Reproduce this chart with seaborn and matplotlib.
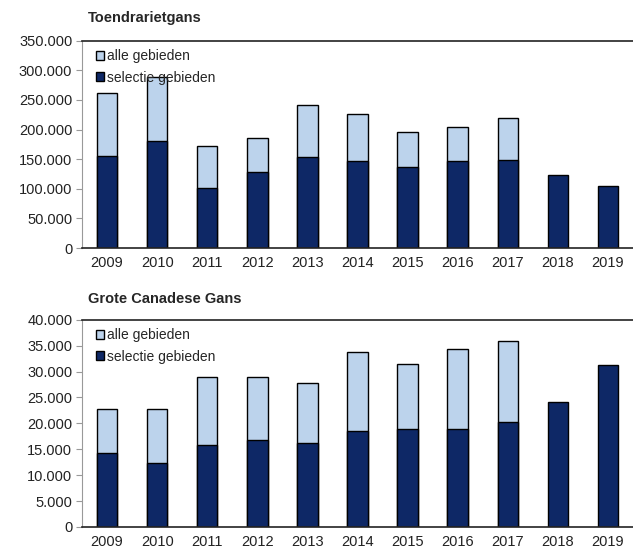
import numpy as np
import pandas as pd
import matplotlib
matplotlib.use("Agg")
import matplotlib.pyplot as plt
import seaborn as sns
from matplotlib.ticker import FuncFormatter, FixedLocator, MultipleLocator

# data
jaren = ["2009", "2010", "2011", "2012", "2013", "2014", "2015", "2016", "2017", "2018", "2019"]

toendra_alle = [262000, 288500, 172500, 186000, 241000, 225500, 196500, 204000, 220000, np.nan, np.nan]
toendra_selectie = [156000, 181500, 101500, 127500, 153500, 147000, 137000, 147000, 149000, 123500, 104000]

canadese_alle = [22800, 22800, 28900, 28950, 27800, 33750, 31450, 34400, 35900, np.nan, np.nan]
canadese_selectie = [14250, 12400, 15800, 16850, 16200, 18450, 18900, 18900, 20200, 24050, 31250]

licht = "#bcd3ec"
donker = "#0e2866"

sns.set_style("white")
plt.rcParams['font.family'] = ['Liberation Sans', 'DejaVu Sans']

fig = plt.figure(figsize=(6.33, 5.48), dpi=100)
ax1 = fig.add_axes([82 / 633, 1 - 248 / 548, 551 / 633, 207.3 / 548])
ax2 = fig.add_axes([82 / 633, 1 - 527 / 548, 551 / 633, 207.3 / 548])


def dutch(x, pos):
    return f"{int(round(x)):,}".replace(",", ".")


def teken(ax, alle, selectie, ymax, stap, titel, titel_y):
    df = pd.DataFrame({"jaar": jaren, "alle": alle, "selectie": selectie})
    sns.barplot(data=df, x="jaar", y="alle", order=jaren, color=licht,
                width=0.41, edgecolor="black", linewidth=1, saturation=1,
                label="alle gebieden", ax=ax)
    sns.barplot(data=df, x="jaar", y="selectie", order=jaren, color=donker,
                width=0.41, edgecolor="black", linewidth=1, saturation=1,
                label="selectie gebieden", ax=ax)
    ax.set_xlim(-0.5, len(jaren) - 0.5)
    ax.set_ylim(0, ymax)
    ax.yaxis.set_major_locator(MultipleLocator(stap))
    ax.yaxis.set_major_formatter(FuncFormatter(dutch))
    ax.set_xlabel("")
    ax.set_ylabel("")
    # tick marks between the years, none under the bars
    ax.xaxis.set_minor_locator(FixedLocator(np.arange(-0.5, len(jaren), 1)))
    ax.tick_params(axis="x", which="major", length=0, labelsize=10.5, pad=6, colors="#222222")
    ax.tick_params(axis="x", which="minor", length=4, width=0.8, color="#999999", direction="out")
    ax.tick_params(axis="y", length=4, width=0.8, direction="out",
                   labelsize=10.5, pad=3, colors="#222222", left=True)
    ax.tick_params(axis="y", color="#999999")
    for kant in ["top", "left", "bottom"]:
        ax.spines[kant].set_visible(True)
        ax.spines[kant].set_color("#222222")
        ax.spines[kant].set_linewidth(1.2)
    ax.spines["left"].set_color("#999999")
    ax.spines["left"].set_linewidth(0.8)
    ax.spines["right"].set_visible(False)
    ax.legend(loc="upper left", frameon=False, fontsize=10, handlelength=0.6,
              handleheight=0.6, handletextpad=0.2, labelspacing=0.55,
              borderaxespad=0.2, bbox_to_anchor=(0.01, 1.0))
    fig.text(88 / 633, 1 - titel_y / 548, titel, fontsize=10.5,
             fontweight="bold", va="center", ha="left")


teken(ax1, toendra_alle, toendra_selectie, 350000, 50000, "Toendrarietgans", 18)
teken(ax2, canadese_alle, canadese_selectie, 40000, 5000, "Grote Canadese Gans", 299)

fig.savefig("out.png", dpi=100)
